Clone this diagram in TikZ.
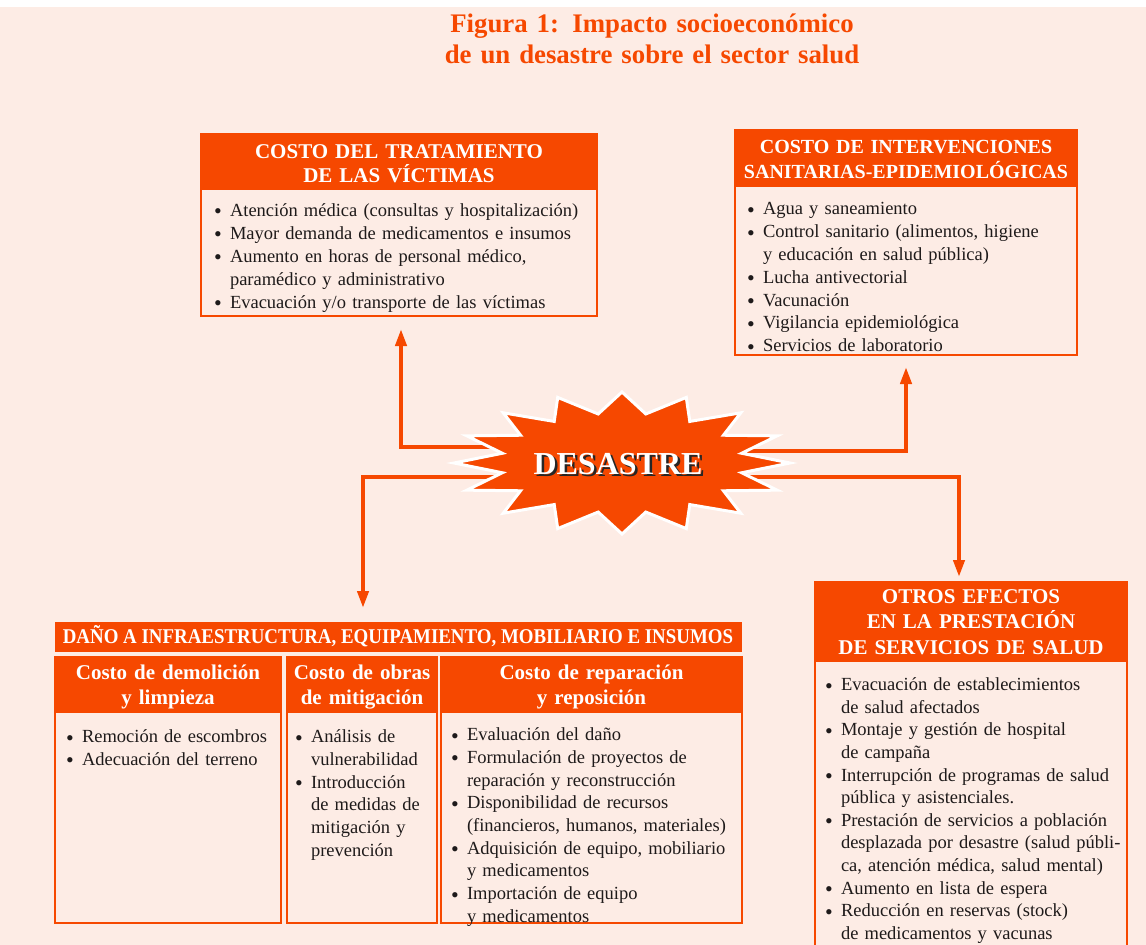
\documentclass[tikz,border=0pt]{standalone}
\usepackage{fontspec}
\setmainfont{Liberation Serif}
\newfontfamily\condfont[FakeStretch=0.9]{Liberation Serif}
\usetikzlibrary{arrows.meta,calc}
\definecolor{orng}{RGB}{246,72,0}
\definecolor{bgpink}{RGB}{253,236,229}
\definecolor{ink}{RGB}{30,26,26}
\newcommand\itm[1]{\par\noindent\hangindent=16pt\hangafter=1\hbox to 16pt{\raisebox{-2.5pt}{\fontsize{22}{22}\selectfont\textbullet}\hss}#1\par}
\newcommand\nl{\hfil\break}
\newcommand\fst{\rule{0pt}{15pt}}
\newcommand\hst{\rule{0pt}{20pt}}
\begin{document}
\begin{tikzpicture}[x=1pt,y=-1pt,
 boxst/.style={draw=orng,line width=2pt,fill=bgpink,inner sep=0,outer sep=0,anchor=north west},
 headst/.style={fill=orng,inner sep=0,outer sep=0,anchor=north west},
 htext/.style={text=white,inner sep=0,outer sep=0,anchor=north,align=center,font=\fontsize{21}{25}\selectfont\bfseries},
 btext/.style={text=ink,inner sep=0,outer sep=0,anchor=north west,align=left,font=\fontsize{18.5}{22.7}\selectfont},
 arr/.style={draw=orng,line width=4pt,-{Triangle[width=11pt,length=17pt]}},
]
\fill[bgpink] (0,0) rectangle (1146,945);
\fill[white] (0,0) rectangle (1146,7);
\useasboundingbox (0,0) rectangle (1146,945);

% title
\node[text=orng,inner sep=0,anchor=north,align=center,text width=520,font=\fontsize{26.8}{31}\selectfont\bfseries] (title) at (652,9)
 {\rule{0pt}{23pt}Figura 1: Impacto socioeconómico\\ de un desastre sobre el sector salud};

% box 1
\node[boxst,minimum width=396,minimum height=182] (b1) at (201,134) {};
\node[headst,minimum width=396,minimum height=56] (b1h) at (201,134) {};
\node[htext,text width=390,font=\fontsize{21}{24}\selectfont\bfseries] (b1ht) at (399,138)
 {\hst COSTO DEL TRATAMIENTO\\ DE LAS VÍCTIMAS};
\node[btext,text width=380,font=\fontsize{18.5}{23}\selectfont] (b1t) at (214,193) {%
\itm{\fst Atención médica (consultas y hospitalización)}
\itm{Mayor demanda de medicamentos e insumos}
\itm{Aumento en horas de personal médico,\nl paramédico y administrativo}
\itm{Evacuación y/o transporte de las víctimas}};

% box 2
\node[boxst,minimum width=342,minimum height=225] (b2) at (735,130) {};
\node[headst,minimum width=342,minimum height=57] (b2h) at (735,130) {};
\node[htext,text width=380,font=\fontsize{20}{25}\selectfont\bfseries] (b2ht) at (906,133)
 {\hst COSTO DE INTERVENCIONES\\ SANITARIAS-EPIDEMIOLÓGICAS};
\node[btext,text width=325,font=\fontsize{18.5}{22.8}\selectfont] (b2t) at (747,192) {%
\itm{\fst Agua y saneamiento}
\itm{Control sanitario (alimentos, higiene\nl y educación en salud pública)}
\itm{Lucha antivectorial}
\itm{Vacunación}
\itm{Vigilancia epidemiológica}
\itm{Servicios de laboratorio}};

% box 4 (otros efectos)
\node[boxst,minimum width=312,minimum height=400] (b4) at (815,582) {};
\node[headst,minimum width=312,minimum height=80] (b4h) at (815,582) {};
\node[htext,text width=310,font=\fontsize{21}{25.5}\selectfont\bfseries] (b4ht) at (971,583)
 {\hst OTROS EFECTOS\\ EN LA PRESTACIÓN\\ DE SERVICIOS DE SALUD};
\node[btext,text width=300,font=\fontsize{18.5}{22.6}\selectfont] (b4t) at (825,668) {%
\itm{\fst Evacuación de establecimientos\nl de salud afectados}
\itm{Montaje y gestión de hospital\nl de campaña}
\itm{Interrupción de programas de salud\nl pública y asistenciales.}
\itm{Prestación de servicios a población\nl desplazada por desastre (salud públi-\nl ca, atención médica, salud mental)}
\itm{Aumento en lista de espera}
\itm{Reducción en reservas (stock)\nl de medicamentos y vacunas}};

% box 3 (daño)
\node[headst,minimum width=687,minimum height=30] (dbar) at (55,622) {};
\node[text=white,inner sep=0,anchor=base,font=\fontsize{21}{25}\condfont\bfseries] (dbart) at (398,643)
 {DAÑO A INFRAESTRUCTURA, EQUIPAMIENTO, MOBILIARIO E INSUMOS};

\node[boxst,minimum width=226,minimum height=266] (c1) at (55,657) {};
\node[headst,minimum width=226,minimum height=56] (c1h) at (55,657) {};
\node[htext,text width=222] (c1ht) at (168,659) {\hst Costo de demolición\\ y limpieza};
\node[btext,text width=212] (c1t) at (66,720) {%
\itm{\fst Remoción de escombros}
\itm{Adecuación del terreno}};

\node[boxst,minimum width=150,minimum height=266] (c2) at (287,657) {};
\node[headst,minimum width=150,minimum height=56] (c2h) at (287,657) {};
\node[htext,text width=148] (c2ht) at (362,659) {\hst Costo de obras\\ de mitigación};
\node[btext,text width=140] (c2t) at (295,720) {%
\itm{\fst Análisis de\nl vulnerabilidad}
\itm{Introducción\nl de medidas de\nl mitigación y\nl prevención}};

\node[boxst,minimum width=301,minimum height=266] (c3) at (441,657) {};
\node[headst,minimum width=301,minimum height=56] (c3h) at (441,657) {};
\node[htext,text width=299] (c3ht) at (591.5,659) {\hst Costo de reparación\\ y reposición};
\node[btext,text width=290] (c3t) at (451,718) {%
\itm{\fst Evaluación del daño}
\itm{Formulación de proyectos de\nl reparación y reconstrucción}
\itm{Disponibilidad de recursos\nl (financieros, humanos, materiales)}
\itm{Adquisición de equipo, mobiliario\nl y medicamentos}
\itm{Importación de equipo\nl y medicamentos}};

% connectors
\coordinate (sc) at (622,463);
\coordinate (t1) at ($(b1.south)+(2,13)$);
\coordinate (t2) at ($(b2.south)+(0,12)$);
\coordinate (t3) at ($(dbar.north west)+(308,-14)$);
\coordinate (t4) at ($(b4.north west)+(144,-5)$);
\draw[arr] ($(sc)+(-60,-16)$) -| (t1);
\draw[arr] ($(sc)+(60,-12)$) -| (t2);
\draw[arr] ($(sc)+(-60,14)$) -| (t3);
\draw[arr] ($(sc)+(60,14)$) -| (t4);

% star
\begin{scope}[shift={(sc)}]
\filldraw[fill=orng,draw=white,line width=3pt,line join=miter] (0:168 and 71)
 \foreach \k in {0,...,15}{ -- ({\k*22.5+11.25}:122 and 50) -- ({(\k+1)*22.5}:168 and 71)} -- cycle;
\end{scope}
\node[inner sep=0,anchor=base,text=black!85,font=\fontsize{32}{36}\selectfont\bfseries] (dessh) at (620.5,476.5) {DESASTRE};
\node[inner sep=0,anchor=base,text=white,font=\fontsize{32}{36}\selectfont\bfseries] (des) at (618,474) {DESASTRE};
\end{tikzpicture}
\end{document}
